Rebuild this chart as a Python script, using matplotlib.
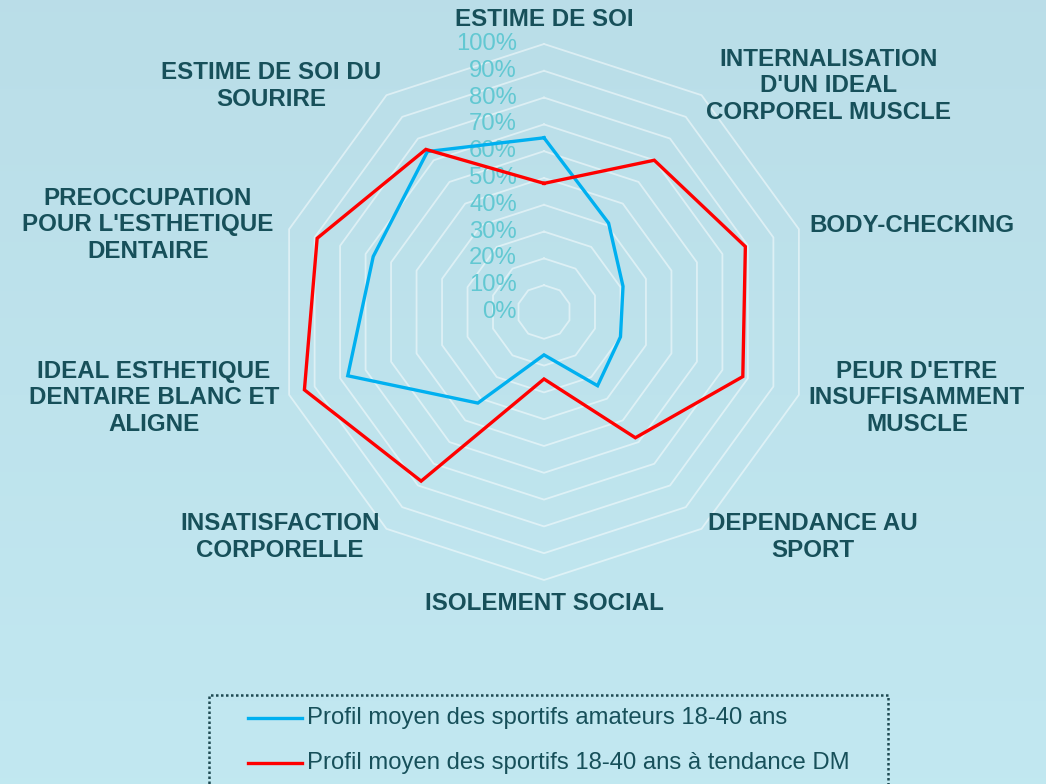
import numpy as np
import matplotlib
matplotlib.use("Agg")
import matplotlib.pyplot as plt
from matplotlib.patches import Rectangle
from matplotlib.lines import Line2D

# data -------------------------------------------------------------
categories = ["ESTIME DE SOI",
              "INTERNALISATION\nD'UN IDEAL\nCORPOREL MUSCLE",
              "BODY-CHECKING",
              "PEUR D'ETRE\nINSUFFISAMMENT\nMUSCLE",
              "DEPENDANCE AU\nSPORT",
              "ISOLEMENT SOCIAL",
              "INSATISFACTION\nCORPORELLE",
              "IDEAL ESTHETIQUE\nDENTAIRE BLANC ET\nALIGNE",
              "PREOCCUPATION\nPOUR L'ESTHETIQUE\nDENTAIRE",
              "ESTIME DE SOI DU\nSOURIRE"]
amateurs = [65, 41, 31, 30, 34, 16, 42, 77, 67, 74]
tendance_dm = [48, 70, 79, 78, 58, 25, 78, 94, 89, 75]
series_names = ["Profil moyen des sportifs amateurs 18-40 ans",
                "Profil moyen des sportifs 18-40 ans à tendance DM"]
ticks = [0, 10, 20, 30, 40, 50, 60, 70, 80, 90, 100]

# style ------------------------------------------------------------
W, H = 1046, 784
cx, cy, R = 544, 312, 268          # centre and 100% radius in pixels
c_blue = "#00b0f0"
c_red = "#ff0000"
c_lab = "#17505a"
c_tick = "#62c8d2"
plt.rcParams['font.family'] = ['Liberation Sans', 'DejaVu Sans']

# label centres in pixels
lab_pos = [(544, 20), (829, 86), (912, 225), (917, 398), (813, 537),
           (544, 603), (280, 537), (154, 398), (148, 225), (271, 86)]

fig = plt.figure(figsize=(W / 100, H / 100), dpi=100)

# background gradient
bg = fig.add_axes([0, 0, 1, 1])
grad = np.linspace(0, 1, 256).reshape(-1, 1)
top = np.array([0.73, 0.87, 0.91])
bot = np.array([0.76, 0.91, 0.945])
img = top + (bot - top) * grad[:, :, None]
bg.imshow(img, aspect='auto', extent=[0, 1, 0, 1])
bg.axis('off')

ax = fig.add_axes([0, 0, 1, 1])
ax.patch.set_alpha(0)
ax.set_xlim(-cx / R, (W - cx) / R)
ax.set_ylim(-(H - cy) / R, cy / R)
ax.axis('off')

n = len(categories)
ang = np.arange(n) * 2 * np.pi / n

# decagon rings
for t in ticks[1:]:
    r = t / 100
    xs = np.append(r * np.sin(ang), r * np.sin(ang[0]))
    ys = np.append(r * np.cos(ang), r * np.cos(ang[0]))
    ax.plot(xs, ys, color='white', alpha=0.5, lw=1.3, zorder=1)

# tick labels
for t in ticks:
    ax.text(-27 / R, t / 100, f"{t}%", ha='right', va='center',
            fontsize=17.2, color=c_tick, zorder=2)

# series
for vals, col in [(amateurs, c_blue), (tendance_dm, c_red)]:
    v = np.array(vals + vals[:1]) / 100
    a = np.append(ang, ang[0])
    ax.plot(v * np.sin(a), v * np.cos(a), color=col, lw=2.4, zorder=3,
            solid_joinstyle='miter')

# category labels
for lab, (px, py) in zip(categories, lab_pos):
    fig.text(px / W, 1 - py / H, lab, ha='center', va='center',
             fontsize=17.4, fontweight='bold', color=c_lab,
             linespacing=1.2, multialignment='center')

# legend box (dotted)
fig.patches.append(Rectangle((209 / W, 1 - 800 / H), (888 - 209) / W,
                             (800 - 695) / H, transform=fig.transFigure,
                             fill=False, ls=(0, (1, 1)), lw=1.8,
                             ec='#1e4a52', zorder=5))
for i, (name, col) in enumerate(zip(series_names, [c_blue, c_red])):
    yy = 1 - (718 + 45 * i) / H
    fig.lines.append(Line2D([248 / W, 302 / W], [yy, yy],
                            transform=fig.transFigure, color=col, lw=2.4))
    fig.text(307 / W, yy, name, ha='left', va='center', fontsize=17.2,
             color=c_lab)

fig.savefig("out.png", dpi=100)
